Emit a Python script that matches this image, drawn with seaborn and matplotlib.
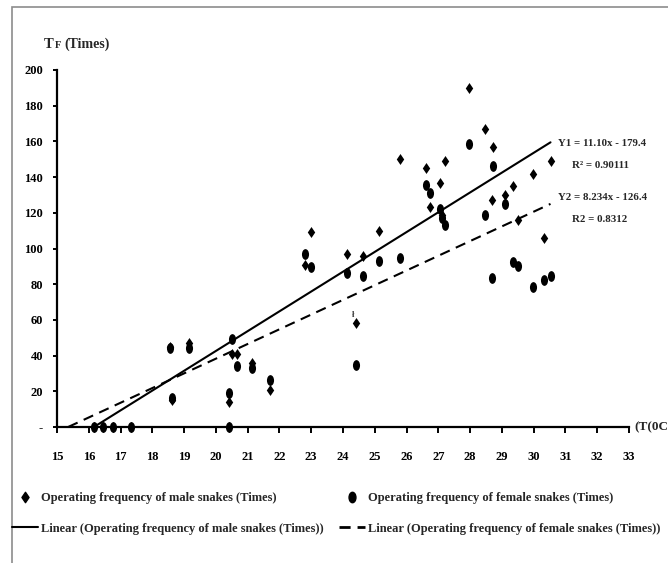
import numpy as np
import pandas as pd
import matplotlib
matplotlib.use("Agg")
import matplotlib.pyplot as plt
from matplotlib.path import Path
from matplotlib.transforms import Affine2D
from matplotlib.lines import Line2D
from matplotlib.patches import Rectangle
import seaborn as sns

# ---------------- data ----------------
temperature = [16.17, 16.46, 16.77, 17.32, 18.56, 18.63, 19.14, 20.40, 20.40, 20.52,
               20.67, 21.15, 21.69, 22.80, 23.00, 24.13, 24.42, 24.62, 25.13, 25.79,
               26.61, 26.73, 27.04, 27.12, 27.22, 27.97, 28.47, 28.71, 28.69, 29.09,
               29.35, 29.52, 29.97, 30.31, 30.53]
male_freq = [0, 0, 0, 0, 45, 15, 47, 14, 0, 41,
             41, 36, 21, 91, 109, 97, 58, 96, 110, 150,
             145, 123, 136.5, 119, 149, 190, 167, 157, 127, 130,
             135, 116, 141.5, 106, 149]
female_freq = [0, 0, 0, 0, 44, 16, 44, 19, 0, 49.5,
               34, 33, 26.5, 97, 89.5, 86, 35, 84.5, 93, 94.7,
               135.5, 131, 122, 117, 113, 158.5, 119, 146, 83.6, 125,
               92.5, 90, 78.5, 82.5, 84.5]
trend_slope = [11.10, 8.234]
trend_intercept = [-179.4, -126.4]
eq_labels = ["Y1 = 11.10x - 179.4", "R\u00b2 = 0.90111", "Y2 = 8.234x - 126.4", "R2 = 0.8312"]
x_ticks = list(range(15, 34))
y_ticks = list(range(0, 201, 20))
y_tick_labels = ["-"] + [str(v) for v in y_ticks[1:]]
x_title = "(T(0C"
legend_labels = ["Operating frequency of male snakes (Times)",
                 "Linear (Operating frequency of male snakes (Times))",
                 "Operating frequency of female snakes (Times)",
                 "Linear (Operating frequency of female snakes (Times))"]

# ---------------- style ----------------
sns.set_theme(style="white")
plt.rcParams["font.family"] = ["Liberation Serif", "DejaVu Serif"]
plt.rcParams["font.weight"] = "bold"

W, H = 668, 563
fig = plt.figure(figsize=(W / 100, H / 100), dpi=100)
fig.patch.set_facecolor("white")

def fx(px):
    return px / W

def fy(py):
    return 1 - py / H

# outer chart frame (cut by right/bottom edge)
fig.add_artist(Rectangle((fx(12), -0.1), 1.2, fy(7) + 0.1, transform=fig.transFigure,
                         fill=False, edgecolor="#8c8c8c", linewidth=1.2, clip_on=False))

ax = fig.add_axes([fx(57), fy(427), fx(629) - fx(57), fy(70) - fy(427)])
ax.set_facecolor("none")

# markers
diamond = Path([(0, 0.5), (0.34, 0), (0, -0.5), (-0.34, 0), (0, 0.5)],
               [Path.MOVETO, Path.LINETO, Path.LINETO, Path.LINETO, Path.CLOSEPOLY])
ellipse = Path.unit_circle().transformed(Affine2D().scale(0.33, 0.5))

df = pd.DataFrame({"temp": temperature, "male": male_freq, "female": female_freq})

sns.scatterplot(data=df, x="temp", y="male", marker=diamond, s=62, color="black",
                edgecolor="black", linewidth=0, ax=ax, clip_on=False, zorder=3)
sns.scatterplot(data=df, x="temp", y="female", marker=ellipse, s=60, color="black",
                edgecolor="black", linewidth=0, ax=ax, clip_on=False, zorder=3)

# trend lines from the fitted equations, from y=0 to last temperature
styles = ["-", (0, (5, 3.2))]
for m, b, ls in zip(trend_slope, trend_intercept, styles):
    xs = np.array([-b / m, max(temperature)])
    sns.lineplot(x=xs, y=m * xs + b, color="black", linewidth=1.5, linestyle=ls,
                 ax=ax, clip_on=False, zorder=2)

ax.set_xlim(15, 33)
ax.set_ylim(0, 200)
ax.set_xticks(x_ticks)
ax.set_xticklabels([str(v) for v in x_ticks])
ax.set_yticks(y_ticks)
ax.set_yticklabels(y_tick_labels)
ax.set_xlabel("")
ax.set_ylabel("")
for s in ["top", "right"]:
    ax.spines[s].set_visible(False)
for s in ["left", "bottom"]:
    ax.spines[s].set_color("black")
    ax.spines[s].set_linewidth(1.6)
ax.tick_params(axis="x", direction="out", length=4.5, width=1.4, pad=13,
               labelsize=9, colors="black", bottom=True)
ax.tick_params(axis="y", direction="out", length=3, width=1.4, pad=7,
               labelsize=9, colors="black", left=True)
for lab in ax.get_xticklabels() + ax.get_yticklabels():
    lab.set_fontweight("bold")

# axis titles
fig.text(fx(44), fy(48), "T", fontsize=10.5, fontweight="bold", va="baseline", ha="left")
fig.text(fx(55), fy(48), "F", fontsize=7.5, fontweight="bold", va="baseline", ha="left")
fig.text(fx(64), fy(48), "(Times)", fontsize=10, fontweight="bold", va="baseline", ha="left")
fig.text(fx(634), fy(427), x_title, fontsize=9.5, fontweight="bold", va="center", ha="left")

# equations
fig.text(fx(558), fy(143), eq_labels[0], fontsize=7.8, fontweight="bold", va="center", ha="left")
fig.text(fx(600), fy(165), eq_labels[1], fontsize=7.8, fontweight="bold", va="center", ha="center")
fig.text(fx(558), fy(197), eq_labels[2], fontsize=7.8, fontweight="bold", va="center", ha="left")
fig.text(fx(600), fy(220), eq_labels[3], fontsize=7.8, fontweight="bold", va="center", ha="center")

# stray label glyph
ax.text(24.33, 63, "\u0142", fontsize=6, ha="center", va="center", color="#333333")

# legend
handles = [
    Line2D([], [], marker=diamond, linestyle="", color="black", markersize=7.5),
    Line2D([], [], linestyle="-", color="black", linewidth=1.5),
    Line2D([], [], marker=ellipse, linestyle="", color="black", markersize=7.5),
    Line2D([], [], linestyle=(0, (4, 2.5)), color="black", linewidth=2),
]
fig.legend(handles, legend_labels, ncol=2, loc="upper left",
           bbox_to_anchor=(fx(12), fy(492)), frameon=False,
           prop={"family": "Liberation Serif", "weight": "bold", "size": 9},
           handlelength=2.1, handletextpad=0.25, columnspacing=1.2,
           labelspacing=1.5, borderpad=0, borderaxespad=0)

fig.savefig("out.png", dpi=100, facecolor="white")
